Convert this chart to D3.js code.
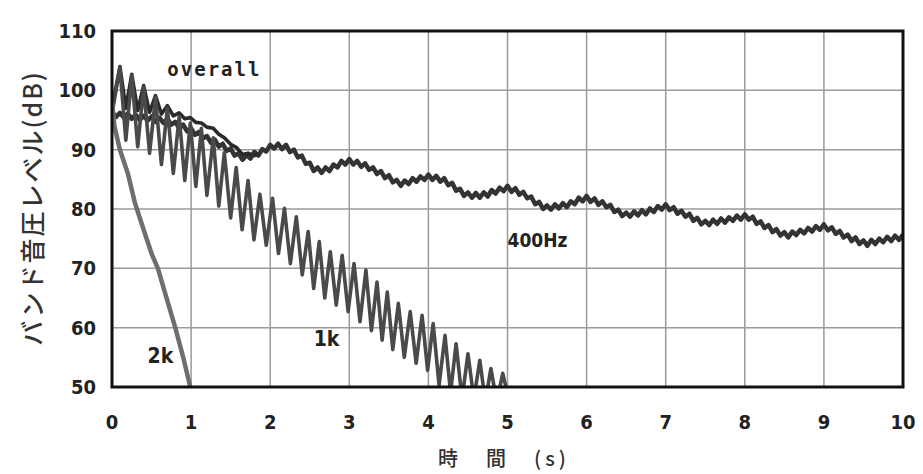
<!DOCTYPE html>
<html>
<head>
<meta charset="utf-8">
<script src="https://cdn.jsdelivr.net/npm/d3@7"></script>
<style>
  body { margin: 0; background: #fff; }
  svg { display: block; }
</style>
</head>
<body>
<svg id="chart" width="923" height="474"></svg>
<script>
// 時間軸 / レベル軸の目盛り
var xTicks = [0, 1, 2, 3, 4, 5, 6, 7, 8, 9, 10];
var yTicks = [50, 60, 70, 80, 90, 100, 110];

// 2k band
var k2Time  = [0, 0.03, 0.1, 0.2, 0.29, 0.4, 0.5, 0.58, 0.7, 0.8, 0.9, 0.99];
var k2Level = [98, 94, 90, 86, 81, 76.5, 72.5, 70, 64.5, 60, 55, 50];

// 1k band (peaks and dips)
var k1Time = [0, 0.10, 0.175, 0.25, 0.325, 0.40, 0.475, 0.55, 0.625, 0.70, 0.775, 0.85, 0.92, 0.99, 1.06, 1.13,
  1.20, 1.28, 1.35, 1.42, 1.50, 1.57, 1.645, 1.72, 1.795, 1.87, 1.95, 2.03, 2.105, 2.18, 2.255, 2.33, 2.405, 2.48,
  2.55, 2.62, 2.69, 2.76, 2.835, 2.91, 2.985, 3.06, 3.135, 3.21, 3.28, 3.35, 3.415, 3.48, 3.55, 3.62, 3.695, 3.77,
  3.845, 3.92, 3.99, 4.06, 4.135, 4.21, 4.28, 4.35, 4.425, 4.50, 4.575, 4.65, 4.72, 4.79, 4.865, 4.94, 4.98];
var k1Level = [96, 103.8, 91.6, 102.5, 90.5, 100.5, 89.4, 98.8, 87.5, 97.0, 86.0, 95.6, 84.8, 94.5, 83.8, 93.6,
  82.3, 92.0, 80.5, 89.5, 78.5, 87.0, 76.5, 84.8, 74.8, 82.5, 73.9, 81.8, 72.5, 80.1, 70.8, 78.7, 68.9, 76.2,
  66.6, 74.5, 65.0, 72.8, 63.8, 72.2, 62.7, 70.8, 61.0, 69.7, 59.5, 67.7, 57.9, 66.0, 56.3, 64.1, 55.0, 62.7,
  54.0, 62.1, 52.8, 60.7, 50.3, 58.7, 49, 57.3, 48, 55.6, 48, 54.5, 47.5, 53.1, 47.5, 52.3, 50];

// overall (merges into 400Hz after ~1.8 s)
var ovTime  = [0, 0.10, 0.175, 0.25, 0.325, 0.40, 0.475, 0.55, 0.625, 0.70, 0.775, 0.85, 0.92, 0.99, 1.06, 1.13,
  1.20, 1.28, 1.35, 1.42, 1.50, 1.57, 1.65, 1.72, 1.80, 1.85];
var ovLevel = [97, 104, 97, 102.7, 96.6, 100.8, 96.3, 99.1, 96.0, 97.4, 95.7, 96.2, 95.2, 95.4, 94.6, 94.5,
  93.8, 93.6, 92.6, 92.0, 90.9, 90.4, 89.2, 89.4, 89.0, 89.4];

// 400Hz band, sampled every 0.05 s from 0 to 10 s
var hzStep = 0.05;
var hzLevel = [
  96.4, 95.5, 96.2, 95.4, 96.1, 95.2, 95.9, 95.0, 95.7, 94.9, 95.6, 94.7, 95.4, 94.5, 95.2, 94.2, 94.7, 93.6, 94.2, 93.1,
  93.6, 92.5, 93.0, 91.9, 92.3, 91.2, 91.7, 90.5, 91.0, 89.8, 90.2, 89.0, 89.4, 88.3, 89.1, 88.5, 89.6, 89.0, 90.1, 89.7,
  90.8, 90.2, 91.0, 90.1, 90.8, 89.6, 90.0, 88.7, 89.0, 87.6, 87.8, 86.4, 87.0, 86.1, 87.0, 86.4, 87.5, 87.0, 88.1, 87.5,
  88.4, 87.5, 88.1, 87.1, 87.7, 86.6, 87.0, 85.9, 86.4, 85.2, 85.7, 84.5, 84.9, 83.9, 84.8, 84.2, 85.2, 84.6, 85.5, 84.9,
  85.8, 84.9, 85.6, 84.6, 85.2, 84.0, 84.4, 83.1, 83.4, 82.2, 82.8, 81.9, 82.7, 81.9, 82.8, 82.1, 83.2, 82.6, 83.6, 83.0,
  83.9, 82.9, 83.5, 82.4, 82.9, 81.8, 82.1, 80.8, 81.2, 80.0, 80.6, 79.9, 80.8, 80.1, 81.0, 80.3, 81.3, 80.8, 81.9, 81.3,
  82.2, 81.2, 81.8, 80.7, 81.3, 80.3, 80.7, 79.5, 79.9, 78.8, 79.4, 78.7, 79.6, 78.9, 79.8, 79.1, 80.1, 79.5, 80.5, 79.9,
  80.8, 79.8, 80.3, 79.2, 79.7, 78.7, 79.2, 78.0, 78.5, 77.4, 78.0, 77.3, 78.2, 77.5, 78.4, 77.7, 78.6, 78.0, 78.9, 78.2,
  79.1, 78.2, 78.7, 77.5, 77.9, 76.8, 77.3, 76.1, 76.6, 75.5, 76.1, 75.2, 76.2, 75.6, 76.5, 75.9, 76.8, 76.2, 77.1, 76.5,
  77.4, 76.4, 76.9, 75.8, 76.3, 75.2, 75.7, 74.6, 75.2, 74.1, 74.7, 73.8, 74.8, 74.1, 75.0, 74.4, 75.3, 74.6, 75.5, 74.8,
  75.7];

var narrow = "'Liberation Sans Narrow', 'DejaVu Sans Condensed', sans-serif";
var labels = [
  { text: "overall", t: 0.7, v: 103.6, font: "'DejaVu Sans Mono', monospace", size: 19, weight: "bold", ls: 2 },
  { text: "400Hz", t: 5.0, v: 74.8, font: narrow, size: 19, weight: "bold", ls: 0 },
  { text: "1k", t: 2.55, v: 58.2, font: narrow, size: 21, weight: "bold", ls: 0 },
  { text: "2k", t: 0.45, v: 55.3, font: narrow, size: 21, weight: "bold", ls: 0 }
];

var svg = d3.select("#chart");
var pLeft = 112, pRight = 903, pTop = 31, pBottom = 387;

var x = d3.scaleLinear().domain([0, 10]).range([pLeft, pRight]);
var y = d3.scaleLinear().domain([50, 110]).range([pBottom, pTop]);

svg.append("defs").append("clipPath").attr("id", "plot")
  .append("rect").attr("x", pLeft).attr("y", pTop).attr("width", pRight - pLeft).attr("height", pBottom - pTop);

// grid
svg.append("g").selectAll("line").data(xTicks.slice(1, -1)).enter().append("line")
  .attr("x1", function (d) { return x(d); }).attr("x2", function (d) { return x(d); })
  .attr("y1", pTop).attr("y2", pBottom)
  .attr("stroke", "#9a9a9a").attr("stroke-width", 1.5);
svg.append("g").selectAll("line").data(yTicks.slice(1, -1)).enter().append("line")
  .attr("y1", function (d) { return y(d); }).attr("y2", function (d) { return y(d); })
  .attr("x1", pLeft).attr("x2", pRight)
  .attr("stroke", "#9a9a9a").attr("stroke-width", 1.5);

var line = d3.line()
  .x(function (d) { return x(d[0]); })
  .y(function (d) { return y(d[1]); });

function pairs(ts, vs) {
  return ts.map(function (t, i) { return [t, vs[i]]; });
}

var hzData = hzLevel.map(function (v, i) { return [i * hzStep, v]; });

var g = svg.append("g").attr("clip-path", "url(#plot)");
g.append("path").datum(hzData).attr("d", line)
  .attr("fill", "none").attr("stroke", "#333").attr("stroke-width", 4.5).attr("stroke-linejoin", "round");
g.append("path").datum(pairs(ovTime, ovLevel)).attr("d", line)
  .attr("fill", "none").attr("stroke", "#2a2a2a").attr("stroke-width", 3.6).attr("stroke-linejoin", "round");
g.append("path").datum(pairs(k1Time, k1Level)).attr("d", line)
  .attr("fill", "none").attr("stroke", "#4a4a4a").attr("stroke-width", 3.6).attr("stroke-linejoin", "round");
g.append("path").datum(pairs(k2Time, k2Level)).attr("d", line)
  .attr("fill", "none").attr("stroke", "#6e6e6e").attr("stroke-width", 4.5).attr("stroke-linejoin", "round");

// frame
svg.append("rect").attr("x", pLeft).attr("y", pTop).attr("width", pRight - pLeft).attr("height", pBottom - pTop)
  .attr("fill", "none").attr("stroke", "#111").attr("stroke-width", 3);

// tick labels
svg.append("g").selectAll("text").data(yTicks).enter().append("text")
  .attr("x", 96).attr("y", function (d) { return y(d); }).attr("dy", "0.35em")
  .attr("text-anchor", "end").attr("font-family", narrow).attr("font-weight", "bold")
  .attr("font-size", 20).attr("fill", "#222").text(function (d) { return d; });
svg.append("g").selectAll("text").data(xTicks).enter().append("text")
  .attr("x", function (d) { return x(d); }).attr("y", 422).attr("dy", "0.35em")
  .attr("text-anchor", "middle").attr("font-family", narrow).attr("font-weight", "bold")
  .attr("font-size", 20).attr("fill", "#222").text(function (d) { return d; });

// series labels
svg.append("g").selectAll("text").data(labels).enter().append("text")
  .attr("x", function (d) { return x(d.t); }).attr("y", function (d) { return y(d.v); })
  .attr("dy", "0.35em")
  .attr("font-family", function (d) { return d.font; })
  .attr("font-size", function (d) { return d.size; })
  .attr("font-weight", function (d) { return d.weight; })
  .attr("letter-spacing", function (d) { return d.ls; })
  .attr("fill", "#222").text(function (d) { return d.text; });

// axis titles
svg.append("text")
  .attr("transform", "translate(33,208) rotate(-90)")
  .attr("text-anchor", "middle").attr("dy", "0.35em").attr("letter-spacing", 2)
  .attr("font-family", "'Noto Sans CJK JP', sans-serif").attr("font-size", 25).attr("font-weight", "500")
  .attr("fill", "#333").text("バンド音圧レベル(dB)");
svg.append("text")
  .attr("x", 504).attr("y", 459).attr("dy", "0.35em")
  .attr("text-anchor", "middle").attr("letter-spacing", 4)
  .attr("font-family", "'Noto Sans CJK JP', sans-serif").attr("font-size", 20).attr("font-weight", "500")
  .attr("fill", "#333").text("時　間　(s)");
</script>
</body>
</html>
